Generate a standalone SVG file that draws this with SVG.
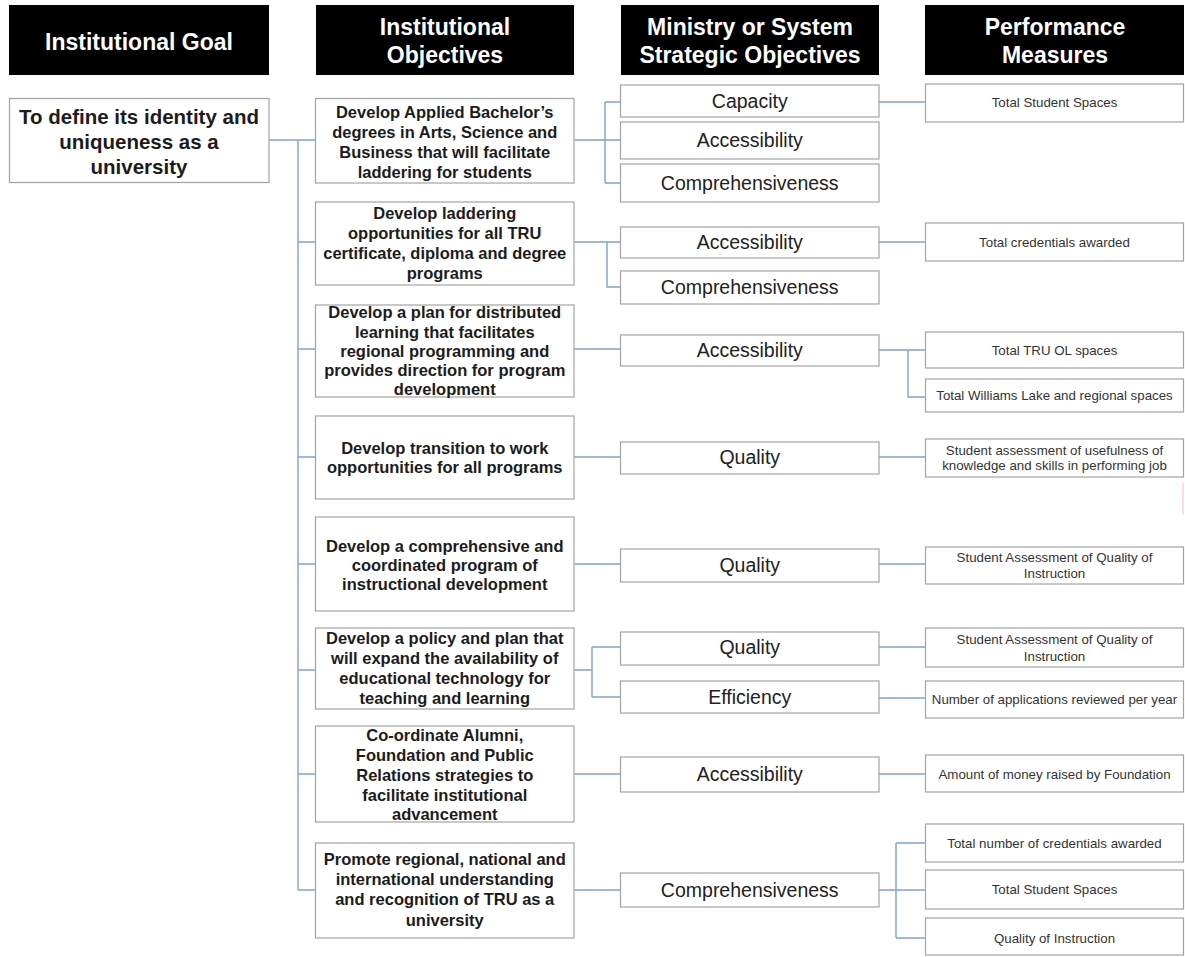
<svg xmlns="http://www.w3.org/2000/svg" width="1185" height="957" viewBox="0 0 1185 957">
<style>
.hd{fill:#000}
.ht{fill:#fff;font-family:"Liberation Sans",Arial,sans-serif;font-weight:bold;font-size:23px;text-anchor:middle}
.bx{fill:#fff;stroke:#a3a3a3;stroke-width:1.2}
.gt{fill:#1c1c1c;font-family:"Liberation Sans",Arial,sans-serif;font-weight:bold;font-size:20.5px;text-anchor:middle}
.ot{fill:#1c1c1c;font-family:"Liberation Sans",Arial,sans-serif;font-weight:bold;font-size:16.5px;text-anchor:middle}
.mt{fill:#222;font-family:"Liberation Sans",Arial,sans-serif;font-size:19.5px;text-anchor:middle}
.pt{fill:#333;font-family:"Liberation Sans",Arial,sans-serif;font-size:13.3px;text-anchor:middle}
.cn{fill:none;stroke:#7fa2d2;stroke-width:1.4}
</style>
<rect width="1185" height="957" fill="#fff"/>

<g id="headers">
<rect class="hd" x="9" y="5" width="260" height="70"/>
<text class="ht" x="139" y="50">Institutional Goal</text>
<rect class="hd" x="316" y="5" width="258" height="70"/>
<text class="ht" x="445" y="35">Institutional</text>
<text class="ht" x="445" y="63">Objectives</text>
<rect class="hd" x="621" y="5" width="258" height="70"/>
<text class="ht" x="750" y="35">Ministry or System</text>
<text class="ht" x="750" y="63">Strategic Objectives</text>
<rect class="hd" x="925" y="5" width="259" height="70"/>
<text class="ht" x="1055" y="35">Performance</text>
<text class="ht" x="1055" y="63">Measures</text>
</g>

<g id="connectors">
<path class="cn" d="M269 140H315.5M298 140V890"/>
<path class="cn" d="M298 242H315.5M298 349H315.5M298 457H315.5M298 564H315.5M298 670H315.5M298 774H315.5M298 890H315.5"/>
<path class="cn" d="M574 140H605M605 102V183M605 102H620.5M605 140H620.5M605 183H620.5"/>
<path class="cn" d="M574 242H620.5M607 242V287H620.5"/>
<path class="cn" d="M574 349H620.5"/>
<path class="cn" d="M574 457H620.5"/>
<path class="cn" d="M574 564H620.5"/>
<path class="cn" d="M574 670H592M592 647V697M592 647H620.5M592 697H620.5"/>
<path class="cn" d="M574 774H620.5"/>
<path class="cn" d="M574 890H620.5"/>
<path class="cn" d="M879 102H925.5"/>
<path class="cn" d="M879 242H925.5"/>
<path class="cn" d="M879 350H925.5M908 350V397H925.5"/>
<path class="cn" d="M879 457H925.5"/>
<path class="cn" d="M879 564H925.5"/>
<path class="cn" d="M879 647H925.5"/>
<path class="cn" d="M879 698H925.5"/>
<path class="cn" d="M879 774H925.5"/>
<path class="cn" d="M879 890H896M896 843V938M896 843H925.5M896 890H925.5M896 938H925.5"/>
</g>

<g id="goal">
<rect class="bx" x="9.5" y="98.5" width="259.5" height="84"/>
<text class="gt" x="139" y="124">To define its identity and</text>
<text class="gt" x="139" y="149">uniqueness as a</text>
<text class="gt" x="139" y="174">university</text>
</g>

<g id="obj1">
<rect class="bx" x="315.5" y="98.5" width="258.5" height="84.5"/>
<text class="ot" x="444.75" y="118">Develop Applied Bachelor’s</text>
<text class="ot" x="444.75" y="138">degrees in Arts, Science and</text>
<text class="ot" x="444.75" y="158">Business that will facilitate</text>
<text class="ot" x="444.75" y="178">laddering for students</text>
</g>
<g id="obj2">
<rect class="bx" x="315.5" y="202" width="258.5" height="83"/>
<text class="ot" x="444.75" y="219">Develop laddering</text>
<text class="ot" x="444.75" y="239">opportunities for all TRU</text>
<text class="ot" x="444.75" y="259">certificate, diploma and degree</text>
<text class="ot" x="444.75" y="279">programs</text>
</g>
<g id="obj3">
<rect class="bx" x="315.5" y="305" width="258.5" height="92"/>
<text class="ot" x="444.75" y="318">Develop a plan for distributed</text>
<text class="ot" x="444.75" y="338">learning that facilitates</text>
<text class="ot" x="444.75" y="357">regional programming and</text>
<text class="ot" x="444.75" y="376">provides direction for program</text>
<text class="ot" x="444.75" y="395">development</text>
</g>
<g id="obj4">
<rect class="bx" x="315.5" y="416" width="258.5" height="83"/>
<text class="ot" x="444.75" y="454">Develop transition to work</text>
<text class="ot" x="444.75" y="473">opportunities for all programs</text>
</g>
<g id="obj5">
<rect class="bx" x="315.5" y="517" width="258.5" height="94"/>
<text class="ot" x="444.75" y="552">Develop a comprehensive and</text>
<text class="ot" x="444.75" y="571">coordinated program of</text>
<text class="ot" x="444.75" y="590">instructional development</text>
</g>
<g id="obj6">
<rect class="bx" x="315.5" y="628" width="258.5" height="81"/>
<text class="ot" x="444.75" y="644">Develop a policy and plan that</text>
<text class="ot" x="444.75" y="664">will expand the availability of</text>
<text class="ot" x="444.75" y="684">educational technology for</text>
<text class="ot" x="444.75" y="704">teaching and learning</text>
</g>
<g id="obj7">
<rect class="bx" x="315.5" y="726" width="258.5" height="96"/>
<text class="ot" x="444.75" y="741">Co-ordinate Alumni,</text>
<text class="ot" x="444.75" y="761">Foundation and Public</text>
<text class="ot" x="444.75" y="781">Relations strategies to</text>
<text class="ot" x="444.75" y="801">facilitate institutional</text>
<text class="ot" x="444.75" y="820">advancement</text>
</g>
<g id="obj8">
<rect class="bx" x="315.5" y="843" width="258.5" height="95"/>
<text class="ot" x="444.75" y="865">Promote regional, national and</text>
<text class="ot" x="444.75" y="885">international understanding</text>
<text class="ot" x="444.75" y="905">and recognition of TRU as a</text>
<text class="ot" x="444.75" y="926">university</text>
</g>

<g id="m1a"><rect class="bx" x="620.5" y="85" width="258.5" height="32"/><text class="mt" x="749.75" y="108">Capacity</text></g>
<g id="m1b"><rect class="bx" x="620.5" y="122" width="258.5" height="37"/><text class="mt" x="749.75" y="147">Accessibility</text></g>
<g id="m1c"><rect class="bx" x="620.5" y="164" width="258.5" height="38"/><text class="mt" x="749.75" y="190">Comprehensiveness</text></g>
<g id="m2a"><rect class="bx" x="620.5" y="227" width="258.5" height="31"/><text class="mt" x="749.75" y="249">Accessibility</text></g>
<g id="m2b"><rect class="bx" x="620.5" y="271" width="258.5" height="33"/><text class="mt" x="749.75" y="294">Comprehensiveness</text></g>
<g id="m3"><rect class="bx" x="620.5" y="335" width="258.5" height="31"/><text class="mt" x="749.75" y="357">Accessibility</text></g>
<g id="m4"><rect class="bx" x="620.5" y="442" width="258.5" height="32"/><text class="mt" x="749.75" y="464">Quality</text></g>
<g id="m5"><rect class="bx" x="620.5" y="549" width="258.5" height="33"/><text class="mt" x="749.75" y="572">Quality</text></g>
<g id="m6a"><rect class="bx" x="620.5" y="632" width="258.5" height="33"/><text class="mt" x="749.75" y="654">Quality</text></g>
<g id="m6b"><rect class="bx" x="620.5" y="681" width="258.5" height="32"/><text class="mt" x="749.75" y="704">Efficiency</text></g>
<g id="m7"><rect class="bx" x="620.5" y="757" width="258.5" height="35"/><text class="mt" x="749.75" y="781">Accessibility</text></g>
<g id="m8"><rect class="bx" x="620.5" y="873" width="258.5" height="34"/><text class="mt" x="749.75" y="897">Comprehensiveness</text></g>

<g id="p1"><rect class="bx" x="925.5" y="84" width="258" height="38"/><text class="pt" x="1054.5" y="107">Total Student Spaces</text></g>
<g id="p2"><rect class="bx" x="925.5" y="223" width="258" height="38"/><text class="pt" x="1054.5" y="247">Total credentials awarded</text></g>
<g id="p3a"><rect class="bx" x="925.5" y="332" width="258" height="36"/><text class="pt" x="1054.5" y="355">Total TRU OL spaces</text></g>
<g id="p3b"><rect class="bx" x="925.5" y="379" width="258" height="33"/><text class="pt" x="1054.5" y="400">Total Williams Lake and regional spaces</text></g>
<g id="p4"><rect class="bx" x="925.5" y="439" width="258" height="38"/><text class="pt" x="1054.5" y="455">Student assessment of usefulness of</text><text class="pt" x="1054.5" y="470">knowledge and skills in performing job</text></g>
<g id="p5"><rect class="bx" x="925.5" y="547" width="258" height="37"/><text class="pt" x="1054.5" y="562">Student Assessment of Quality of</text><text class="pt" x="1054.5" y="578">Instruction</text></g>
<g id="p6a"><rect class="bx" x="925.5" y="628" width="258" height="39"/><text class="pt" x="1054.5" y="644">Student Assessment of Quality of</text><text class="pt" x="1054.5" y="661">Instruction</text></g>
<g id="p6b"><rect class="bx" x="925.5" y="681" width="258" height="37"/><text class="pt" x="1054.5" y="704">Number of applications reviewed per year</text></g>
<g id="p7"><rect class="bx" x="925.5" y="755" width="258" height="37"/><text class="pt" x="1054.5" y="779">Amount of money raised by Foundation</text></g>
<g id="p8a"><rect class="bx" x="925.5" y="824" width="258" height="38"/><text class="pt" x="1054.5" y="848">Total number of credentials awarded</text></g>
<g id="p8b"><rect class="bx" x="925.5" y="870" width="258" height="39"/><text class="pt" x="1054.5" y="894">Total Student Spaces</text></g>
<g id="p8c"><rect class="bx" x="925.5" y="918" width="258" height="37"/><text class="pt" x="1054.5" y="943">Quality of Instruction</text></g>

<line x1="1183" y1="483" x2="1183" y2="515" stroke="#f6cccc" stroke-width="1.2"/>
</svg>
